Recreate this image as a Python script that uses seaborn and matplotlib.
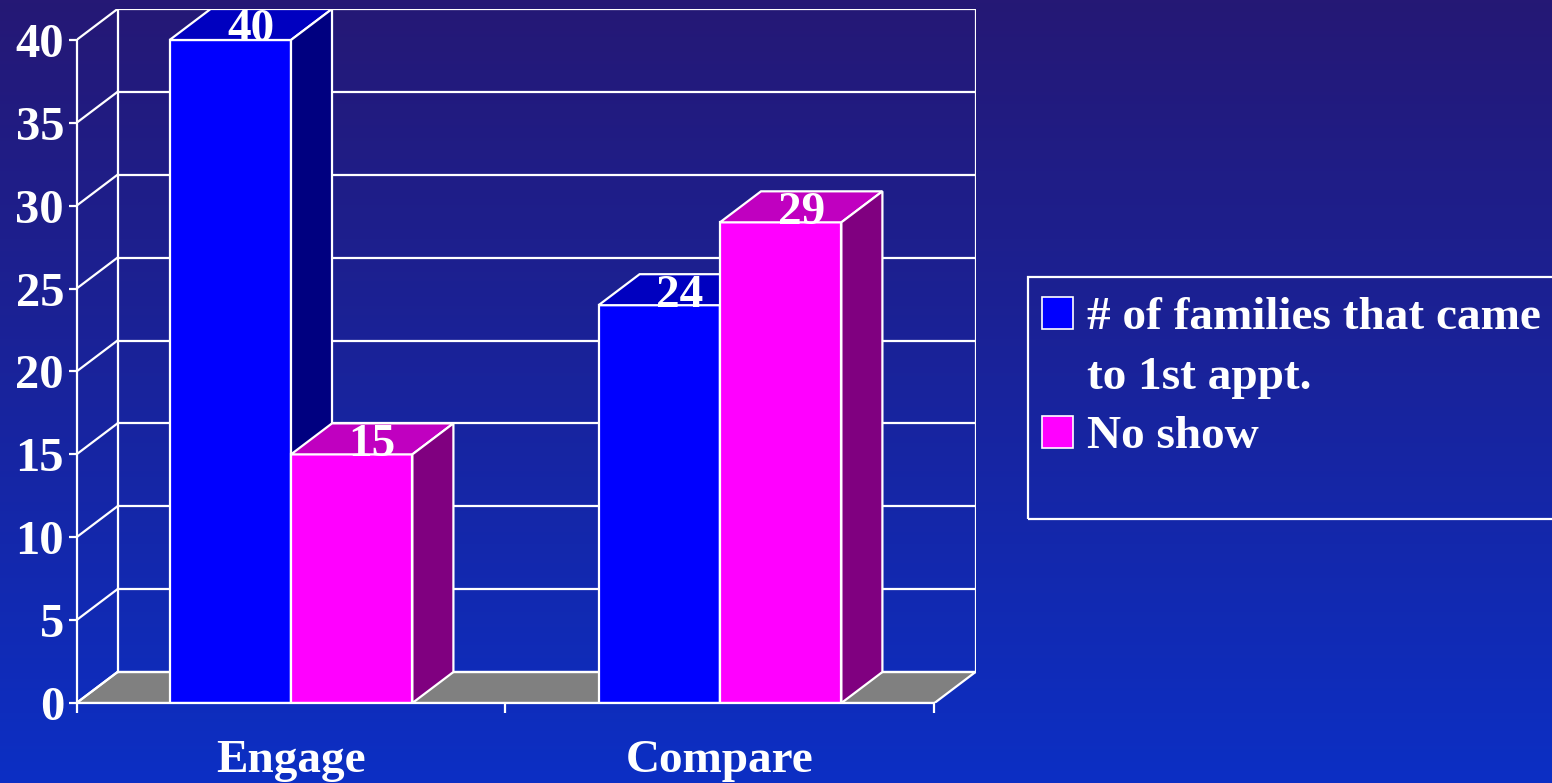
import matplotlib
matplotlib.use("Agg")
import matplotlib.pyplot as plt
from matplotlib.patches import Polygon, Patch, Rectangle
import numpy as np
import pandas as pd
import seaborn as sns

# chart data
categories = ["Engage", "Compare"]
series = ["# of families that came\nto 1st appt.", "No show"]
came = [40, 24]
no_show = [15, 29]

front_cols = ["#0000FF", "#FF00FF"]
top_cols = ["#0000C0", "#C000C0"]
side_cols = ["#000080", "#800080"]

df = pd.DataFrame({
    "category": categories * 2,
    "series": [series[0]] * 2 + [series[1]] * 2,
    "value": came + no_show,
})

W, H = 1552, 783
fig = plt.figure(figsize=(W / 100, H / 100), dpi=100)

# gradient background
bg = fig.add_axes([0, 0, 1, 1], zorder=-10)
grad = np.linspace(0, 1, 256)[:, None]
top_rgb = np.array([0x25, 0x18, 0x75]) / 255
bot_rgb = np.array([0x0C, 0x2F, 0xC4]) / 255
img = top_rgb[None, None, :] * (1 - grad[:, :, None]) + bot_rgb[None, None, :] * grad[:, :, None]
bg.imshow(img, aspect="auto", extent=[0, 1, 0, 1])
bg.axis("off")

# pseudo 3d depth (data units)
dx, dy = 0.0956, 1.87
x_lo, x_hi = -0.5, 1.5
ymax = 40

left_px, right_px = 76.5, 975.5
bot_px, top_px = 703, 9
ax = fig.add_axes([left_px / W, (H - bot_px) / H, (right_px - left_px) / W, (bot_px - top_px) / H])
ax.set_facecolor("none")

serif = ["Liberation Serif", "DejaVu Serif"]
fs = 34

sns.barplot(data=df, x="category", y="value", hue="series", hue_order=series,
            palette=front_cols, saturation=1, width=0.566, edgecolor="white",
            linewidth=1.6, legend=False, ax=ax, zorder=2)

ax.set_xlim(x_lo, x_hi + dx)
ax.set_ylim(0, ymax + dy)

# floor
floor = Polygon([(x_lo, 0), (x_hi, 0), (x_hi + dx, dy), (x_lo + dx, dy)],
                closed=True, facecolor="#808080", edgecolor="white", lw=1.6, zorder=0.5)
ax.add_patch(floor)

# back wall grid and side wall lines
for v in range(0, ymax + 1, 5):
    ax.plot([x_lo + dx, x_hi + dx], [v + dy, v + dy], color="white", lw=1.6, zorder=0.6)
    ax.plot([x_lo, x_lo + dx], [v, v + dy], color="white", lw=1.6, zorder=0.6)
ax.plot([x_lo + dx, x_lo + dx], [dy, ymax + dy], color="white", lw=1.6, zorder=0.6)
ax.plot([x_hi + dx, x_hi + dx], [dy, ymax + dy], color="white", lw=1.6, zorder=0.6)

# 3d faces for each bar
for i, cont in enumerate(ax.containers):
    for bar in cont:
        x0 = bar.get_x()
        w = bar.get_width()
        h = bar.get_height()
        bar.set_zorder(2 + i * 0.1)
        topf = Polygon([(x0, h), (x0 + w, h), (x0 + w + dx, h + dy), (x0 + dx, h + dy)],
                       closed=True, facecolor=top_cols[i], edgecolor="white", lw=1.6,
                       zorder=2.01 + i * 0.1)
        side = Polygon([(x0 + w, 0), (x0 + w + dx, dy), (x0 + w + dx, h + dy), (x0 + w, h)],
                       closed=True, facecolor=side_cols[i], edgecolor="white", lw=1.6,
                       zorder=2.02 + i * 0.1)
        ax.add_patch(topf)
        ax.add_patch(side)
        ax.text(x0 + w / 2 + dx / 2, h + dy / 2 - 0.05, f"{h:.0f}", ha="center", va="center_baseline",
                color="white", fontsize=fs, fontweight="bold", family=serif, zorder=5)

# axes styling
for s in ["top", "right"]:
    ax.spines[s].set_visible(False)
for s in ["left", "bottom"]:
    ax.spines[s].set_color("white")
    ax.spines[s].set_linewidth(1.6)
    ax.spines[s].set_zorder(3)
ax.spines["left"].set_bounds(0, ymax)
ax.spines["bottom"].set_bounds(x_lo, x_hi)

ax.set_yticks(range(0, ymax + 1, 5))
ax.tick_params(axis="y", colors="white", length=6, width=1.6, pad=3)
ax.set_xticks([0, 1])
ax.set_xticks([x_lo, 0.5, x_hi], minor=True)
ax.tick_params(axis="x", which="major", length=0, pad=27, colors="white")
ax.tick_params(axis="x", which="minor", length=7, width=1.6, colors="white")
for lab in ax.get_yticklabels():
    lab.set_fontsize(35)
for lab in ax.get_xticklabels():
    lab.set_fontsize(34)
for lab in ax.get_yticklabels() + ax.get_xticklabels():
    lab.set_fontweight("bold")
    lab.set_family(serif)
    lab.set_color("white")
ax.set_xlabel("")
ax.set_ylabel("")

# legend box
fig.patches.append(Rectangle((1028 / W, (H - 519) / H), (1560 - 1028) / W, (519 - 277) / H,
                             transform=fig.transFigure, fill=False, edgecolor="white", lw=1.6))
# first series label is split over two rows so the swatch sits on its first line
first, second = series[0].split("\n")
handles = [Patch(facecolor=front_cols[0], edgecolor="white", lw=1.2),
           Patch(facecolor="none", edgecolor="none"),
           Patch(facecolor=front_cols[1], edgecolor="white", lw=1.2)]
labels = [first, second, series[1]]
leg = fig.legend(handles, labels, loc="upper left", bbox_to_anchor=(1042 / W, (H - 297) / H),
                 frameon=False, prop={"family": serif, "weight": "bold", "size": fs},
                 handlelength=0.66, handleheight=0.66, handletextpad=0.3, labelspacing=0.36,
                 borderaxespad=0, borderpad=0)
for t in leg.get_texts():
    t.set_color("white")

fig.savefig("out.png", dpi=100)
